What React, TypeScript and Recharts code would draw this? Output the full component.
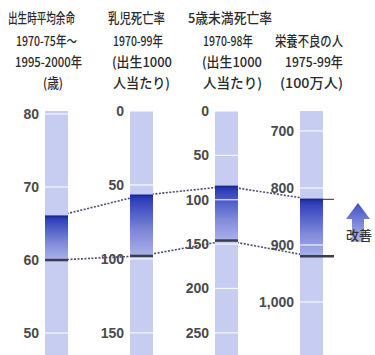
import { ComposedChart, Bar, Line, Scatter, XAxis, YAxis } from 'recharts';

const columns = ['出生時平均余命', '乳児死亡率', '5歳未満死亡率', '栄養不良の人'];
// each column has its own scale: value at the top edge and at the bottom edge of the bar
const axisTop = [80.4, 0, 0, 665];
const axisBottom = [47, 165, 275, 1093];
// 1970s value (worse) and latest value (better)
const earlyValues = [60, 98, 146, 920];
const recentValues = [66, 57, 85, 820];
const tickValues = [
  [80, 70, 60, 50],
  [0, 50, 100, 150],
  [0, 50, 100, 150, 200, 250],
  [700, 800, 900, 1000],
];
const headerLines = [
  ['出生時平均余命', '1970-75年～', '1995-2000年', '(歳)'],
  ['乳児死亡率', '1970-99年', '(出生1000', '人当たり)'],
  ['5歳未満死亡率', '1970-98年', '(出生1000', '人当たり)'],
  ['', '栄養不良の人', '1975-99年', '(100万人)'],
];
const arrowLabel = '改善';

// header placement: [x, width] per line per column
const headerBoxes = [
  [[8, 67], [16, 61], [15, 67], [43, 20]],
  [[108, 57], [113, 50], [112, 60], [113, 57]],
  [[188, 84], [203, 50], [202, 60], [203, 59]],
  [[0, 0], [275, 68], [285, 58], [280, 63]],
];
const headerBaselines = [23, 46, 67, 88];

const BAR = 23;
const MAX_TICKS = 6;
const CJK = '"Noto Sans CJK JP", "Noto Sans", sans-serif';

const norm = (v: number, i: number) => (v - axisTop[i]) / (axisBottom[i] - axisTop[i]);

const data = columns.map((name, i) => {
  const row: Record<string, any> = {
    name,
    range: [norm(recentValues[i], i), norm(earlyValues[i], i)],
    recent: norm(recentValues[i], i),
    early: norm(earlyValues[i], i),
  };
  for (let k = 0; k < MAX_TICKS; k++) {
    const t = tickValues[i][k];
    row[`tick${k}`] = t === undefined ? null : norm(t, i);
    row[`tickLabel${k}`] = t === undefined ? '' : t.toLocaleString('en-US');
  }
  return row;
});

const RangeShape = (props: any) => {
  const { x, y, width, height } = props;
  if (![x, y, width, height].every(Number.isFinite)) return <g />;
  const top = Math.min(y, y + height);
  return <rect x={x} y={top} width={width} height={Math.abs(height)} fill="url(#improveGrad)" />;
};

const tickShape = (k: number) => (props: any) => {
  const { cx, cy, payload } = props;
  if (payload == null || payload[`tick${k}`] == null || !Number.isFinite(cy)) return <g />;
  return (
    <g>
      <line x1={cx - BAR / 2} x2={cx + BAR / 2} y1={cy} y2={cy} stroke="#ffffff" strokeWidth={1.2} strokeOpacity={0.85} />
      <text
        x={cx - BAR / 2 - 6}
        y={cy + 5}
        textAnchor="end"
        fontFamily='"Liberation Sans", Arial, sans-serif'
        fontWeight="bold"
        fontSize={14}
        fill="#4a4a4a"
      >
        {payload[`tickLabel${k}`]}
      </text>
    </g>
  );
};

const markerShape = (kind: 'early' | 'recent') => (props: any) => {
  const { cx, cy, payload } = props;
  if (!Number.isFinite(cy)) return <g />;
  const extended = payload.name === columns[3];
  const x1 = cx - BAR / 2;
  const x2 = cx + BAR / 2;
  if (kind === 'early') {
    return (
      <g>
        <line x1={x1} x2={x2 + (extended ? 11 : 0)} y1={cy} y2={cy} stroke="#3a3c50" strokeWidth={2.5} />
      </g>
    );
  }
  return (
    <g>
      <line x1={x1} x2={x2} y1={cy} y2={cy} stroke="#1a2894" strokeWidth={1.6} />
      {extended && <line x1={x2} x2={x2 + 11} y1={cy} y2={cy} stroke="#4a4c5c" strokeWidth={1.2} />}
    </g>
  );
};

export default function App() {
  return (
    <div style={{ position: 'absolute', left: 0, top: 0, width: 375, height: 355, background: '#fff' }}>
      <ComposedChart width={375} height={355} data={data} margin={{ top: 111, right: 21, bottom: 0, left: 14 }}>
        <defs>
          <linearGradient id="improveGrad" x1="0" y1="0" x2="0" y2="1">
            <stop offset="0%" stopColor="#1f2fa6" />
            <stop offset="10%" stopColor="#3444bd" />
            <stop offset="60%" stopColor="#7f89d8" />
            <stop offset="100%" stopColor="#aab2ea" />
          </linearGradient>
        </defs>
        <XAxis dataKey="name" type="category" hide allowDuplicatedCategory={false} />
        <YAxis type="number" domain={[0, 1]} reversed hide />
        <Line
          dataKey="recent"
          stroke="#4a4f70"
          strokeWidth={1.6}
          strokeDasharray="2 1.5"
          dot={false}
          activeDot={false}
          isAnimationActive={false}
          zIndex={-500}
        />
        <Line
          dataKey="early"
          stroke="#4a4f70"
          strokeWidth={1.6}
          strokeDasharray="2 1.5"
          dot={false}
          activeDot={false}
          isAnimationActive={false}
          zIndex={-500}
        />
        <Bar
          dataKey="range"
          barSize={BAR}
          background={{ fill: '#c6cdf0' }}
          shape={<RangeShape />}
          isAnimationActive={false}
        />
        {Array.from({ length: MAX_TICKS }, (_, k) => (
          <Scatter key={k} dataKey={`tick${k}`} shape={tickShape(k)} isAnimationActive={false} />
        ))}
        <Scatter dataKey="early" shape={markerShape('early')} isAnimationActive={false} zIndex={700} />
        <Scatter dataKey="recent" shape={markerShape('recent')} isAnimationActive={false} zIndex={700} />
      </ComposedChart>
      <svg width={375} height={355} style={{ position: 'absolute', left: 0, top: 0, pointerEvents: 'none' }}>
        <defs>
          <linearGradient id="arrowGrad" x1="0" y1="0" x2="0" y2="1">
            <stop offset="0%" stopColor="#3f4fc6" />
            <stop offset="100%" stopColor="#b4bbea" />
          </linearGradient>
        </defs>
        {headerLines.map((lines, c) =>
          lines.map((txt, l) =>
            txt ? (
              <text
                key={`${c}-${l}`}
                x={headerBoxes[c][l][0]}
                y={headerBaselines[l]}
                textLength={headerBoxes[c][l][1]}
                lengthAdjust="spacingAndGlyphs"
                fontFamily={CJK}
                fontSize={13.5}
                fontWeight={500}
                fill="#2a2a2a"
              >
                {txt}
              </text>
            ) : null
          )
        )}
        <path d="M346 219 L358 203 L370 219 L364 219 L364 242 L352 242 L352 219 Z" fill="url(#arrowGrad)" />
        <text x={359} y={240} textAnchor="middle" fontFamily={CJK} fontSize={13} fontWeight={500} fill="#333">
          {arrowLabel}
        </text>
      </svg>
    </div>
  );
}
